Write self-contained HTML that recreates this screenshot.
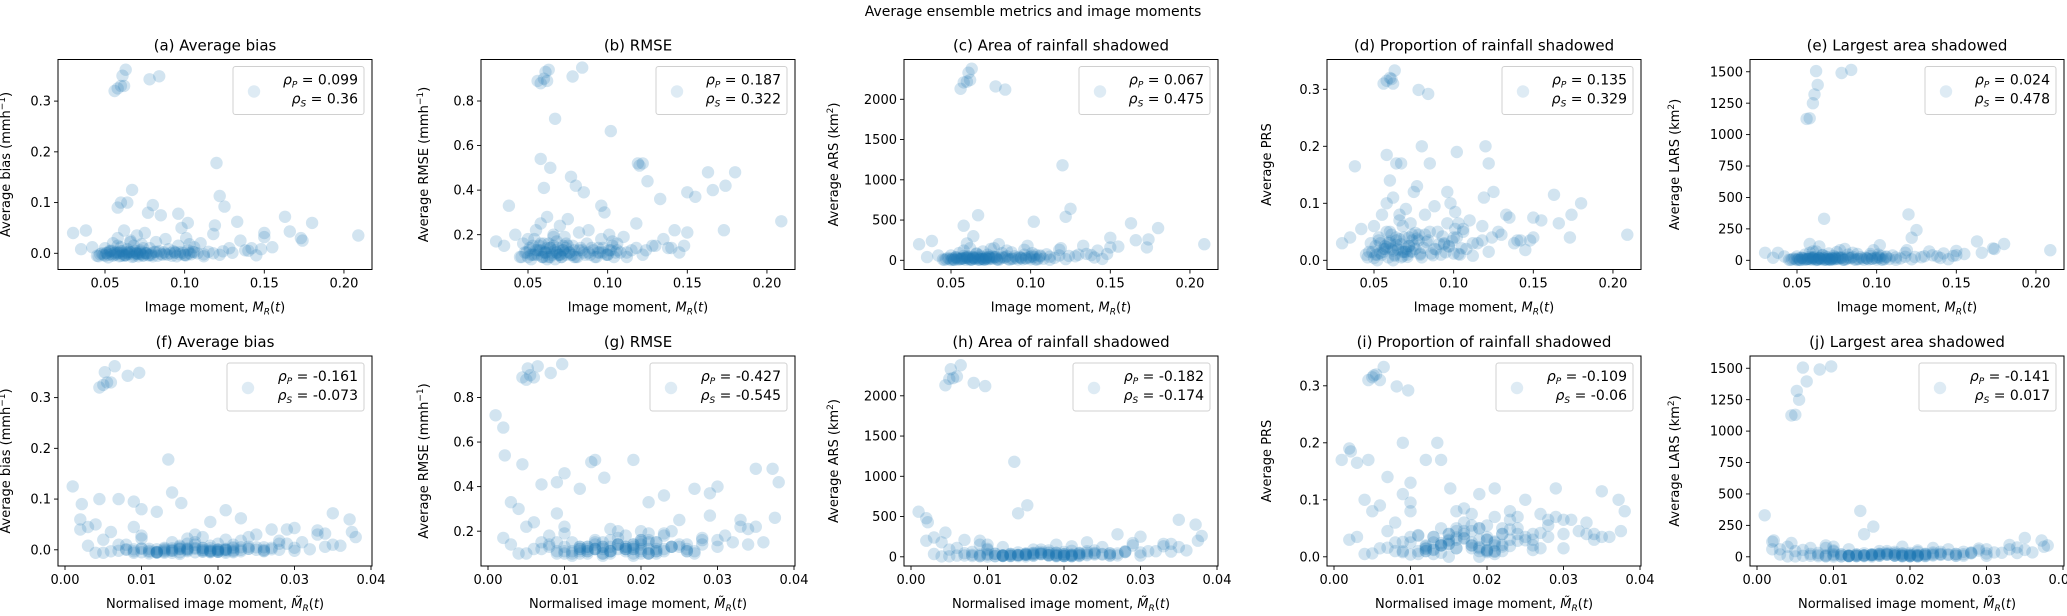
<!DOCTYPE html>
<html><head><meta charset="utf-8"><style>
html,body{margin:0;padding:0;background:#fff;}
svg{display:block;font-family:"DejaVu Sans","Liberation Sans",sans-serif;}
</style></head><body>
<svg id="fig" width="2067" height="616" viewBox="0 0 2067 616">
<text x="1033" y="16" text-anchor="middle" font-size="14">Average ensemble metrics and image moments</text>
</svg>
<script>
// x variables
const mr=[.056,.058,.060,.061,.063,.078,.084,.062,
.120,.122,.125,.067,.102,.058,.064,.163,.180,.174,.209,.173,.166,.155,.150,.038,.133,
.080,.077,.085,.060,.119,.096,
.045,.048,.050,.052,.053,.055,.056,.057,.058,.059,.060,.061,.062,.063,.064,.065,.066,.067,.068,.069,.070,.071,.072,.073,.074,.075,.076,.078,.080,.082,.084,.086,.088,.090,.092,.094,.096,.098,.100,.101,.102,.104,.106,.108,.110,.112,.115,.118,.122,.128,.135,.140,.145,.150,.030,.035,.042,.047,.051,.054,.058,.062,.066,.070,.074,.079,.097,.103,.142,
.046,.049,.051,.053,.055,.057,.059,.061,.063,.065,.067,.069,.071,.073,.075,.077,.079,.081,.083,.085,.087,.089,.091,.093,.095,.097,.099,.101,.103,.105,.050,.054,.058,.060,.062,.064,.066,.068,.070,.072,.074,.076,.052,.056,.060,.064,.068,.072,.078,.082,.088,.094,.100,.106,.112,.118,.124,.130,.138,.148];
const mrn=[.0045,.0050,.0055,.0052,.0065,.0082,.0097,.0060,
.0135,.0140,.0152,.0010,.0020,.0022,.0045,.0350,.0372,.0380,.0375,.0330,.0300,.0290,.0270,.0030,.0230,
.0090,.0100,.0120,.0070,.0190,.0210,
.012,.020,.008,.015,.022,.005,.018,.010,.025,.013,.016,.021,.009,.019,.003,.014,.024,.011,.017,.027,.006,.020,.015,.023,.012,.029,.018,.007,.021,.016,.013,.026,.010,.019,.022,.015,.031,.004,.020,.017,.024,.011,.028,.014,.021,.009,.019,.033,.016,.022,.018,.025,.012,.034,.002,.015,.020,.030,.008,.023,.014,.019,.010,.026,.017,.021,.013,.028,.035,
.004,.006,.008,.010,.012,.014,.016,.018,.020,.022,.024,.026,.005,.007,.009,.011,.013,.015,.017,.019,.021,.023,.025,.027,.012,.014,.016,.018,.020,.022,.010,.013,.015,.017,.019,.021,.011,.014,.016,.018,.020,.023,.009,.012,.015,.017,.019,.021,.013,.016,.018,.020,.022,.024,.026,.028,.030,.032,.034,.036];
// metrics
const bias=[.320,.325,.330,.350,.362,.343,.349,.330,
.178,.113,.092,.125,.060,.090,.100,.072,.060,.025,.035,.030,.043,.012,.040,.045,.062,
.095,.080,.075,.100,.055,.078,
-.005,.000,.010,-.008,.005,.020,-.003,.002,.030,-.006,.012,.000,.045,-.004,.008,.003,.025,-.007,.015,.001,.035,-.002,.006,.018,-.005,.040,.000,.010,-.006,.022,.004,-.003,.028,.008,-.005,.002,.015,.050,-.004,.030,.006,-.002,.012,.000,.020,-.006,.003,.038,-.003,.010,.025,.005,-.004,.032,.040,.008,.012,-.002,.001,.005,.015,-.005,.022,.000,.010,-.003,.002,.018,.010,
-.006,-.003,.000,.003,-.005,-.002,.001,.004,-.004,-.001,.002,.005,-.006,-.002,.001,-.004,.000,.003,-.005,-.001,.002,-.003,.000,.004,-.006,-.002,.001,-.004,.000,.003,-.005,-.002,.001,.004,-.003,.000,.002,-.006,-.001,.003,-.004,.000,-.003,.001,-.005,.002,-.002,.000,-.004,.003,-.001,.001,-.003,.002,-.002,.000,.004,.001,.006,.008];
const rmse=[.89,.88,.90,.93,.94,.91,.95,.89,
.51,.52,.44,.72,.665,.54,.50,.48,.48,.42,.26,.22,.40,.37,.39,.33,.36,
.42,.46,.39,.41,.52,.33,
.10,.12,.18,.09,.15,.22,.11,.13,.25,.10,.16,.12,.28,.10,.14,.12,.20,.09,.17,.11,.24,.10,.13,.19,.11,.27,.12,.15,.10,.21,.13,.11,.22,.14,.10,.12,.18,.30,.11,.20,.13,.10,.16,.12,.19,.10,.13,.25,.11,.15,.18,.14,.12,.21,.17,.15,.20,.16,.13,.18,.16,.09,.19,.11,.14,.10,.12,.17,.22,
.10,.12,.14,.11,.13,.15,.10,.12,.16,.11,.13,.14,.10,.12,.15,.11,.13,.10,.14,.12,.16,.11,.13,.10,.12,.14,.11,.13,.15,.12,.10,.11,.13,.12,.14,.10,.15,.12,.11,.13,.16,.12,.11,.13,.10,.14,.12,.15,.11,.13,.12,.14,.11,.13,.12,.14,.13,.15,.14,.15];
const ars=[2130,2210,2220,2330,2380,2160,2120,2240,
1180,540,640,560,480,430,300,460,400,260,200,160,250,170,280,240,180,
200,150,120,210,150,130,
10,30,60,5,40,90,15,25,120,8,50,20,150,12,35,22,80,6,60,18,110,10,40,70,15,140,20,45,8,90,35,14,100,50,10,28,70,180,12,90,40,10,60,20,75,8,30,130,15,50,80,35,18,160,200,40,60,15,10,30,55,5,85,20,45,10,25,70,120,
5,15,25,35,10,20,30,45,8,18,28,40,6,16,26,38,12,22,32,50,9,19,29,42,14,24,34,55,11,21,4,13,23,33,17,27,37,7,15,25,35,48,10,20,30,40,15,25,35,45,20,30,40,50,45,60,55,70,65,80];
const prs=[.310,.315,.320,.318,.333,.299,.292,.310,
.200,.170,.120,.170,.190,.185,.170,.115,.100,.080,.045,.040,.065,.070,.075,.165,.080,
.200,.130,.170,.140,.110,.120,
.010,.030,.060,.000,.040,.080,.015,.025,.100,.005,.050,.020,.110,.010,.035,.020,.070,.005,.060,.015,.090,.010,.040,.065,.015,.120,.020,.045,.005,.080,.035,.012,.095,.050,.010,.028,.065,.100,.012,.085,.040,.010,.055,.020,.070,.008,.030,.060,.015,.050,.075,.035,.018,.040,.030,.040,.055,.015,.010,.030,.050,.000,.080,.020,.045,.010,.025,.065,.035,
.005,.015,.025,.035,.010,.020,.030,.045,.008,.018,.028,.040,.006,.016,.026,.038,.012,.022,.032,.050,.009,.019,.029,.042,.014,.024,.034,.055,.011,.021,.004,.013,.023,.033,.017,.027,.037,.007,.015,.025,.035,.048,.010,.020,.030,.040,.015,.025,.035,.045,.020,.030,.040,.050,.030,.035,.040,.045,.030,.035];
const lars=[1125,1130,1250,1320,1395,1490,1515,1505,
365,180,240,330,120,130,110,150,130,90,80,95,60,50,40,60,70,
90,80,60,70,80,50,
5,15,30,2,20,45,8,12,60,4,25,10,70,6,18,11,40,3,30,9,55,5,20,35,8,65,10,22,4,45,18,7,50,25,5,14,35,80,6,45,20,5,30,10,38,4,15,60,8,25,40,18,9,75,60,20,30,8,5,15,28,2,42,10,22,5,12,35,55,
3,8,14,20,5,10,16,24,4,9,15,22,3,8,13,19,6,11,17,26,5,10,15,21,7,12,18,28,6,11,2,7,12,17,9,14,19,4,8,13,18,25,5,10,15,20,8,13,18,23,10,15,20,25,22,28,26,32,30,35];
// tick labels and legend values
const xTicksTop=[0.05,0.10,0.15,0.20];
const xTickLabelsTop=["0.05","0.10","0.15","0.20"];
const xTicksBot=[0,0.01,0.02,0.03,0.04];
const xTickLabelsBot=["0.00","0.01","0.02","0.03","0.04"];
const titlesTop=["(a) Average bias","(b) RMSE","(c) Area of rainfall shadowed","(d) Proportion of rainfall shadowed","(e) Largest area shadowed"];
const titlesBot=["(f) Average bias","(g) RMSE","(h) Area of rainfall shadowed","(i) Proportion of rainfall shadowed","(j) Largest area shadowed"];
const rhoPTop=["0.099","0.187","0.067","0.135","0.024"];
const rhoSTop=["0.36","0.322","0.475","0.329","0.478"];
const rhoPBot=["-0.161","-0.427","-0.182","-0.109","-0.141"];
const rhoSBot=["-0.073","-0.545","-0.174","-0.06","0.017"];

const NS="http://www.w3.org/2000/svg";
const svg=document.getElementById('fig');
function mk(tag,attrs,parent){const e=document.createElementNS(NS,tag);for(const k in attrs)e.setAttribute(k,attrs[k]);(parent||svg).appendChild(e);return e;}

const metrics=[
 {data:bias,ticks:[0,0.1,0.2,0.3],labels:["0.0","0.1","0.2","0.3"],y:v=>253.3-v*507.3,ylab:'Average bias (mmh<tspan baseline-shift="super" font-size="9">−1</tspan>)',yoff:-48,name:'bias'},
 {data:rmse,ticks:[0.2,0.4,0.6,0.8],labels:["0.2","0.4","0.6","0.8"],y:v=>101+(0.8-v)*222.8,ylab:'Average RMSE (mmh<tspan baseline-shift="super" font-size="9">−1</tspan>)',yoff:-53,name:'rmse'},
 {data:ars,ticks:[0,500,1000,1500,2000],labels:["0","500","1000","1500","2000"],y:v=>260.3-v*0.0805,ylab:'Average ARS (km<tspan baseline-shift="super" font-size="9">2</tspan>)',yoff:-66,name:'ars'},
 {data:prs,ticks:[0,0.1,0.2,0.3],labels:["0.0","0.1","0.2","0.3"],y:v=>260.3-v*570,ylab:'Average PRS',yoff:-56,name:'prs'},
 {data:lars,ticks:[0,250,500,750,1000,1250,1500],labels:["0","250","500","750","1000","1250","1500"],y:v=>260.3-v*0.1257,ylab:'Average LARS (km<tspan baseline-shift="super" font-size="9">2</tspan>)',yoff:-71,name:'lars'}
];

for(let row=0;row<2;row++){
 for(let ix=0;ix<5;ix++){
  const m=metrics[ix];
  const L=58+423*ix, W=314, dy=row*296.5, T=59.5+dy, H=210;
  const xs=row===0?(v=>L+47+(v-0.05)*1593):(v=>L+7+v*7650);
  const ys=v=>m.y(v)+dy;
  const xd=row===0?mr:mrn;
  const g=mk('g',{});
  
  
  const cid='clip'+row+ix;
  const cp=mk('clipPath',{id:cid},g);
  mk('rect',{x:L,y:T,width:W,height:H},cp);
  const pts=mk('g',{'clip-path':'url(#'+cid+')'},g);
  
  
  for(let i=0;i<m.data.length;i++){
   const c=mk('circle',{cx:xs(xd[i]).toFixed(1),cy:ys(m.data[i]).toFixed(1),r:6.2,fill:'#1f77b4','fill-opacity':0.2},pts);
   
   
  }
  const fr=mk('rect',{x:L,y:T,width:W,height:H,fill:'none',stroke:'#000','stroke-width':1},g);
  
  
  const xt=row===0?xTicksTop:xTicksBot, xl=row===0?xTickLabelsTop:xTickLabelsBot;
  xt.forEach((v,k)=>{const x=xs(v);
   mk('line',{x1:x,x2:x,y1:T+H,y2:T+H+4,stroke:'#000','stroke-width':0.9},g);
   const t=mk('text',{x:x,y:T+H+18,'text-anchor':'middle','font-size':13},g);t.textContent=xl[k];
   
   });
  m.ticks.forEach((v,k)=>{const y=ys(v);
   mk('line',{x1:L-4,x2:L,y1:y,y2:y,stroke:'#000','stroke-width':0.9},g);
   const t=mk('text',{x:L-7,y:y+4.6,'text-anchor':'end','font-size':13},g);t.textContent=m.labels[k];
   
   });
  const tt=mk('text',{x:L+W/2,y:T-9,'text-anchor':'middle','font-size':15},g);
  tt.textContent=(row===0?titlesTop:titlesBot)[ix];
  
  
  const xlab=mk('text',{x:L+W/2,y:T+H+42,'text-anchor':'middle','font-size':13},g);
  xlab.innerHTML=row===0?'Image moment, <tspan font-style="italic">M</tspan><tspan font-style="italic" font-size="9" dy="3">R</tspan><tspan dy="-3">(</tspan><tspan font-style="italic">t</tspan>)':'Normalised image moment, <tspan font-style="italic">M̃</tspan><tspan font-style="italic" font-size="9" dy="3">R</tspan><tspan dy="-3">(</tspan><tspan font-style="italic">t</tspan>)';
  
  
  const cx=L+m.yoff, cy=T+H/2;
  const ylab=mk('text',{x:cx,y:cy,'text-anchor':'middle','font-size':13,transform:'rotate(-90 '+cx+' '+cy+')'},g);
  ylab.innerHTML=m.ylab;
  
  
  const lg=mk('g',{},g);
  
  
  const lx=row===0?L+175:L+169;
  mk('rect',{x:lx,y:T+7,width:L+306-lx,height:48,rx:2.5,fill:'#fff','fill-opacity':0.85,stroke:'#d0d0d0','stroke-width':1},lg);
  mk('circle',{cx:lx+21,cy:T+32,r:6.2,fill:'#1f77b4','fill-opacity':0.15},lg);
  const rp=(row===0?rhoPTop:rhoPBot)[ix], rs=(row===0?rhoSTop:rhoSBot)[ix];
  const t1=mk('text',{x:L+300,y:T+25,'text-anchor':'end','font-size':14},lg);
  t1.innerHTML='<tspan font-style="italic">ρ</tspan><tspan font-style="italic" font-size="9" dy="3">P</tspan><tspan dy="-3"> = '+rp+'</tspan>';
  
  
  const t2=mk('text',{x:L+300,y:T+44,'text-anchor':'end','font-size':14},lg);
  t2.innerHTML='<tspan font-style="italic">ρ</tspan><tspan font-style="italic" font-size="9" dy="3">S</tspan><tspan dy="-3"> = '+rs+'</tspan>';
  
  
 }
}
</script>
</body></html>
